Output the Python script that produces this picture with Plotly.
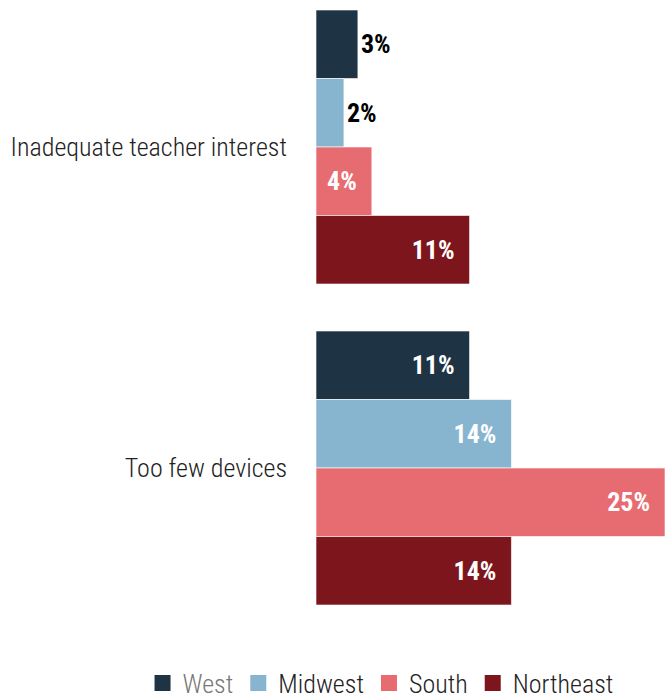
import plotly.graph_objects as go

categories = ["Inadequate teacher interest", "Too few devices"]
regions = ["West", "Midwest", "South", "Northeast"]
west = [3, 11]
midwest = [2, 14]
south = [4, 25]
northeast = [11, 14]

values = [west, midwest, south, northeast]
colors = ["#1e3444", "#87b4cf", "#e76c72", "#7d151c"]
legend_names = ["<span style='color:#777777'>West</span>", "Midwest", "South", "Northeast"]

FONT = "Roboto Condensed, Roboto, Liberation Sans Narrow, sans-serif"
LABEL_SIZE = 26
TEXT_SIZE = 26

fig = go.Figure()
for name, label, vals, col in zip(regions, legend_names, values, colors):
    positions = ["outside" if v < 4 else "inside" for v in vals]
    texts = [f"{v}%" if v < 4 else f"{v}%&nbsp;&nbsp;" for v in vals]
    fig.add_trace(go.Bar(
        y=categories,
        x=vals,
        name=name,
        orientation="h",
        showlegend=False,
        legendgroup=name,
        marker=dict(color=col, line=dict(color="rgba(255,255,255,0.6)", width=1)),
        text=texts,
        textposition=positions,
        insidetextanchor="end",
        textfont=dict(family=FONT, size=LABEL_SIZE, weight="bold"),
        insidetextfont=dict(family=FONT, size=LABEL_SIZE, color="white", weight="bold"),
        outsidetextfont=dict(family=FONT, size=LABEL_SIZE, color="black", weight="bold"),
        cliponaxis=False,
    ))

# Legend entries with larger square swatches
for name, label, col in zip(regions, legend_names, colors):
    fig.add_trace(go.Scatter(
        x=[None],
        y=[None],
        mode="markers",
        name=label,
        legendgroup=name,
        marker=dict(symbol="square", size=16, color=col),
        hoverinfo="skip",
    ))

fig.update_layout(
    width=665,
    height=700,
    barmode="group",
    bargap=0.1464,
    bargroupgap=0,
    plot_bgcolor="white",
    paper_bgcolor="white",
    margin=dict(l=316, r=0, t=10, b=95, autoexpand=False),
    font=dict(family=FONT, color="#222222", size=TEXT_SIZE, weight=300),
    uniformtext=dict(mode=False),
    showlegend=True,
    legend=dict(
        orientation="h",
        x=-0.497,
        xanchor="left",
        y=-(683 - 605) / 595,
        yanchor="middle",
        font=dict(family=FONT, size=TEXT_SIZE, color="#222222", weight=300),
        itemwidth=30,
        itemsizing="trace",
        traceorder="normal",
    ),
)
fig.update_xaxes(range=[0, 25], visible=False, showgrid=False, zeroline=False)
fig.update_yaxes(
    range=[1.4268, -0.4268],
    showgrid=False,
    zeroline=False,
    showline=False,
    ticks="",
    ticklabelstandoff=28,
    tickfont=dict(family=FONT, size=TEXT_SIZE, color="#222222", weight=300),
)

fig.write_html("out.html")
